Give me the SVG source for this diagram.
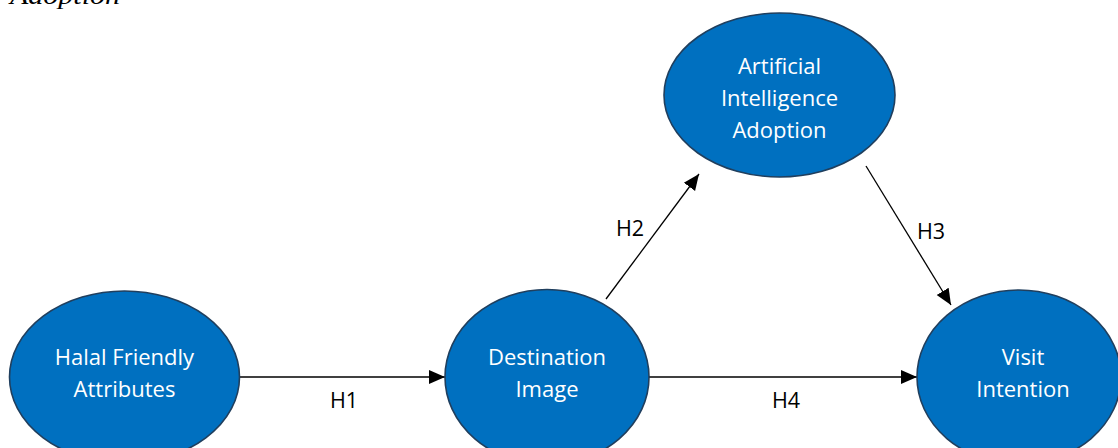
<svg xmlns="http://www.w3.org/2000/svg" width="1118" height="448" viewBox="0 0 1118 448">
<style>
.node ellipse{fill:#0070C0;stroke:#203F5E;stroke-width:1.6}
.node text{fill:#fff;font-family:"Open Sans","Noto Sans",sans-serif;font-size:22px;text-anchor:middle}
.conn line{stroke:#000;stroke-width:1.3;marker-end:url(#arr)}
.lbl{fill:#000;font-family:"Open Sans","Noto Sans",sans-serif;font-size:21.5px;text-anchor:middle}
</style>
<defs>
<marker id="arr" markerUnits="userSpaceOnUse" markerWidth="16" markerHeight="16" viewBox="0 0 16 16" refX="16" refY="8" orient="auto">
<path d="M0,1 L16,8 L0,15 Z" fill="#000"/>
</marker>
</defs>
<rect width="1118" height="448" fill="#fff"/>
<text x="10" y="4" font-family="'Liberation Serif',serif" font-style="italic" font-size="26" textLength="110" lengthAdjust="spacingAndGlyphs" fill="#000">Adoption</text>
<g class="conn">
<line x1="240" y1="377" x2="445" y2="377"/>
<line x1="649" y1="377" x2="917" y2="377"/>
<line x1="606" y1="299" x2="699" y2="174"/>
<line x1="866" y1="166" x2="951" y2="305"/>
<text class="lbl" x="344" y="408">H1</text>
<text class="lbl" x="630" y="236">H2</text>
<text class="lbl" x="931" y="239">H3</text>
<text class="lbl" x="786" y="408">H4</text>
</g>
<g id="halal" class="node">
<ellipse cx="124.5" cy="377" rx="115" ry="86"/>
<text x="124.5" y="365">Halal Friendly</text>
<text x="124.5" y="397">Attributes</text>
</g>
<g id="destination" class="node">
<ellipse cx="547" cy="377" rx="102" ry="87.5"/>
<text x="547" y="365">Destination</text>
<text x="547" y="397">Image</text>
</g>
<g id="ai" class="node">
<ellipse cx="779.5" cy="95" rx="115.5" ry="82"/>
<text x="779.5" y="74">Artificial</text>
<text x="779.5" y="106">Intelligence</text>
<text x="779.5" y="138">Adoption</text>
</g>
<g id="visit" class="node">
<ellipse cx="1019" cy="377" rx="102" ry="87"/>
<text x="1023" y="365">Visit</text>
<text x="1023" y="397">Intention</text>
</g>
</svg>
